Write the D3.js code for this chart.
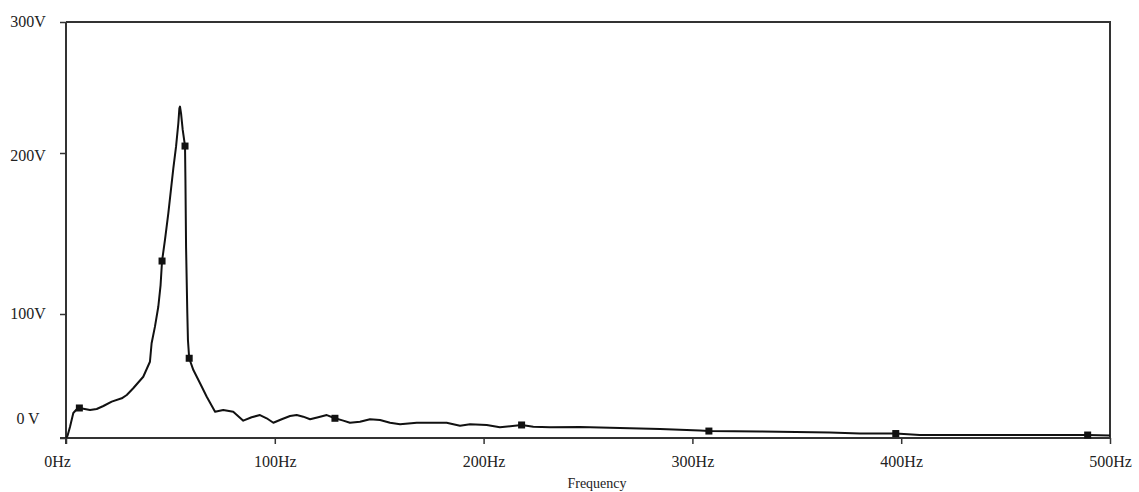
<!DOCTYPE html>
<html>
<head>
<meta charset="utf-8">
<script src="https://cdn.jsdelivr.net/npm/d3@7"></script>
<style>
  body { margin: 0; background: #fff; }
  svg text { font-family: "Liberation Serif", "DejaVu Serif", serif; fill: #222; }
</style>
</head>
<body>
<div id="chart"></div>
<script>
// spectrum trace (Hz, V)
const freqs = [0, 0.7, 1.9, 3.5, 4.8, 6.4, 11.5, 14.7, 17.9, 21.9, 26.7, 29.1, 32.2, 37.0, 40.2, 41.0,
  42.6, 44.2, 45.3, 46.0, 47.4, 49.0, 50.6, 51.4, 52.7, 53.8, 54.3, 54.6, 55.1, 55.9, 57.0, 57.2,
  57.5, 58.1, 58.4, 59.0, 61.0, 64.2, 67.4, 71.4, 75.3, 80.1, 84.9, 88.9, 92.9, 96.1, 99.3, 103.3,
  107.3, 110.5, 113.6, 116.9, 120.8, 124.9, 128.8, 132.8, 136.0, 140.8, 145.6, 150.4, 155.2, 160.0,
  168.0, 182.3, 188.7, 193.5, 201.5, 207.8, 218.2, 223.8, 231.8, 246.2, 265.3, 284.5, 303.6, 307.9,
  332.3, 365.8, 380.2, 397.4, 408.9, 447.2, 489.3, 500];
const volts = [0, 1.6, 8.9, 20.2, 22.6, 24.2, 22.6, 23.4, 25.8, 29.3, 32.0, 34.7, 40.1, 49.4, 61.5, 76.4,
  89.8, 104.5, 118.0, 132.9, 146.0, 162.5, 181.2, 190.5, 204.8, 222.7, 234.1, 235.4, 230.3, 217.6, 205.3, 183.2,
  141.8, 100.4, 79.0, 64.3, 54.8, 44.1, 33.3, 21.2, 22.6, 21.2, 14.0, 16.7, 18.5, 15.9, 12.3, 15.1,
  17.7, 18.5, 17.2, 15.1, 16.7, 18.5, 15.9, 14.0, 12.3, 13.1, 15.1, 14.5, 12.3, 11.0,
  12.3, 12.3, 9.9, 11.0, 10.5, 8.6, 10.5, 9.1, 8.6, 8.9, 8.1, 7.3, 6.0, 5.6,
  5.2, 4.4, 3.6, 3.6, 2.4, 2.4, 2.4, 2.0];

// square markers on the trace
const markerFreqs = [6.4, 46.0, 57.0, 59.0, 128.8, 218.2, 307.9, 397.4, 489.3];
const markerVolts = [24.2, 132.9, 205.3, 64.3, 15.9, 10.5, 5.6, 3.6, 2.4];

const xTicks = [0, 100, 200, 300, 400, 500];
const yTicks = [0, 100, 200, 300];

const width = 1139, height = 492;
const plotL = 66, plotR = 1110, plotT = 22, plotB = 438;

const svg = d3.select("#chart").append("svg")
  .attr("width", width).attr("height", height);

const x = d3.scaleLinear().domain([0, 500]).range([plotL, plotR]);
// the original plot's voltage axis is not evenly spaced
const y = d3.scaleLinear().domain([0, 100, 200, 300]).range([plotB, 314, 153, plotT]);

// frame (top and right edges)
svg.append("path")
  .attr("d", `M${plotL},${plotT}H${plotR}V${plotB}`)
  .attr("fill", "none").attr("stroke", "#333").attr("stroke-width", 2);

const xAxis = svg.append("g")
  .attr("transform", `translate(0,${plotB})`)
  .call(d3.axisBottom(x).tickValues(xTicks).tickSize(6).tickFormat(d => d + "Hz"));
xAxis.select(".domain").attr("stroke", "#333").attr("stroke-width", 2).attr("d", `M${plotL - 6},0H${plotR}`);
xAxis.selectAll(".tick line").attr("stroke", "#333").attr("stroke-width", 1.5);
xAxis.selectAll(".tick text")
  .attr("y", 23).attr("dy", "0.35em")
  .attr("dx", d => d === 0 ? -9 : 0)
  .style("font-size", "16px").attr("fill", "#222");

const yAxis = svg.append("g")
  .attr("transform", `translate(${plotL},0)`)
  .call(d3.axisLeft(y).tickValues(yTicks).tickSize(6).tickFormat(d => d === 0 ? "0 V" : d + "V"));
yAxis.select(".domain").attr("stroke", "#333").attr("stroke-width", 2).attr("d", `M0,${plotT}V${plotB + 6}`);
yAxis.selectAll(".tick line").attr("stroke", "#333").attr("stroke-width", 1.5);
yAxis.selectAll(".tick text")
  .attr("x", 28 - plotL).attr("text-anchor", "middle")
  .attr("dy", "0.35em")
  .attr("y", d => d === 0 ? -20 : (d === 200 ? 2 : -1))
  .style("font-size", "16px").attr("fill", "#222");

svg.append("text")
  .attr("x", 597).attr("y", 483).attr("dy", "0.35em")
  .attr("text-anchor", "middle")
  .style("font-size", "14px")
  .text("Frequency");

const pts = freqs.map((f, i) => [f, volts[i]]);
const line = d3.line().x(d => x(d[0])).y(d => y(d[1]));

svg.append("path")
  .datum(pts)
  .attr("d", line)
  .attr("fill", "none")
  .attr("stroke", "#111")
  .attr("stroke-width", 2)
  .attr("stroke-linejoin", "round");

const ms = 7;
svg.selectAll("rect.marker")
  .data(markerFreqs.map((f, i) => [f, markerVolts[i]]))
  .join("rect")
  .attr("class", "marker")
  .attr("x", d => x(d[0]) - ms / 2)
  .attr("y", d => y(d[1]) - ms / 2)
  .attr("width", ms).attr("height", ms)
  .attr("fill", "#111");
</script>
</body>
</html>
